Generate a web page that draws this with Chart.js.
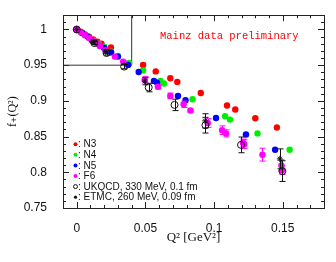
<!DOCTYPE html>
<html>
<head>
<meta charset="utf-8">
<script src="https://cdn.jsdelivr.net/npm/chart.js@4.4.1/dist/chart.umd.min.js"></script>
<style>
  html, body { margin: 0; padding: 0; background: #fff; }
  #wrap { width: 336px; height: 262px; }
</style>
</head>
<body>
<div id="wrap"><canvas id="ffChart" width="336" height="262"></canvas></div>
<script>
// f+(Q^2) vs Q^2

// N3 (red)
const n3Q2 = [0, 0.003, 0.006, 0.009, 0.012, 0.015, 0.018, 0.0249, 0.0483, 0.0575, 0.0681, 0.0732, 0.0903, 0.1094, 0.1154, 0.130, 0.1457];
const n3F  = [1, 0.997, 0.993, 0.990, 0.986, 0.983, 0.980, 0.975, 0.9504, 0.9413, 0.9317, 0.9266, 0.911, 0.8935, 0.888, 0.8756, 0.8628];

// N4 (green)
const n4Q2 = [0, 0.004, 0.008, 0.012, 0.016, 0.020, 0.025, 0.030, 0.0381, 0.0483, 0.0609, 0.0635, 0.0843, 0.108, 0.1116, 0.1316, 0.155];
const n4F  = [1, 0.995, 0.990, 0.985, 0.980, 0.976, 0.969, 0.963, 0.953, 0.9427, 0.928, 0.9243, 0.9022, 0.8784, 0.8738, 0.8545, 0.8316];

// N5 (blue)
const n5Q2 = [0, 0.004, 0.008, 0.011, 0.013, 0.017, 0.020, 0.025, 0.030, 0.0374, 0.0451, 0.0562, 0.0584, 0.0737, 0.0792, 0.1014, 0.1232, 0.1444];
const n5F  = [1, 0.995, 0.990, 0.985, 0.982, 0.977, 0.974, 0.968, 0.962, 0.9504, 0.9404, 0.928, 0.9256, 0.907, 0.9008, 0.876, 0.853, 0.8315];

// F6 (magenta), with errors
const f6Q2  = [0, 0.003, 0.006, 0.009, 0.012, 0.015, 0.017, 0.021, 0.0278, 0.0338, 0.0495, 0.0591, 0.0681, 0.0778, 0.0828, 0.0954, 0.1058, 0.1087, 0.121, 0.122, 0.1352, 0.149, 0.1495];
const f6F   = [1, 0.996, 0.992, 0.988, 0.984, 0.980, 0.977, 0.971, 0.962, 0.955, 0.9298, 0.9197, 0.907, 0.8953, 0.8866, 0.869, 0.859, 0.8545, 0.8415, 0.8394, 0.8247, 0.8095, 0.803];
const f6Err = [0, 0, 0, 0, 0, 0, 0, 0, 0.001, 0.001, 0.0045, 0.003, 0.004, 0.0045, 0.002, 0.006, 0.006, 0.005, 0.005, 0.006, 0.009, 0.008, 0.006];

// UKQCD, 330 MeV, 0.1 fm (open circles)
const ukQ2  = [0, 0.0128, 0.0217, 0.0345, 0.0524, 0.0712, 0.0937, 0.1196, 0.1497];
const ukF   = [1, 0.981, 0.967, 0.948, 0.9187, 0.8944, 0.866, 0.8384, 0.8017];
const ukErr = [0, 0.002, 0.003, 0.003, 0.006, 0.008, 0.011, 0.011, 0.0145];

// ETMC, 260 MeV, 0.09 fm (stars)
const etQ2  = [0, 0.012, 0.021, 0.0495, 0.0935, 0.1478];
const etF   = [1, 0.983, 0.969, 0.9276, 0.872, 0.8188];
const etErr = [0, 0.002, 0.003, 0.005, 0.010, 0.014];

// zoom box drawn in the top-left corner
const boxQ2 = [-0.01, 0.04, 0.04];
const boxF  = [0.95, 0.95, 1.02];

const xTicks = [0, 0.05, 0.1, 0.15];
const yTicks = [0.75, 0.8, 0.85, 0.9, 0.95, 1];

const legendLabels = ['N3', 'N4', 'N5', 'F6', 'UKQCD, 330 MeV, 0.1 fm', 'ETMC, 260 MeV, 0.09 fm'];

const RED = '#ff0000', GREEN = '#00ee00', BLUE = '#0000ff', MAGENTA = '#ff00ff', BLACK = '#111';

function pts(xs, ys, errs) {
  return xs.map((x, i) => ({ x: x, y: ys[i], err: errs ? errs[i] : 0 }));
}

// error bars, drawn right after their own dataset
const errorBars = {
  id: 'errorBars',
  afterDatasetDraw(chart, args) {
    const ds = chart.data.datasets[args.index];
    if (!ds.errColor) return;
    const ctx = chart.ctx;
    const xs = chart.scales.x, ys = chart.scales.y;
    ctx.save();
    ctx.strokeStyle = ds.errColor;
    ctx.lineWidth = 1;
    ds.data.forEach(p => {
      if (!p.err) return;
      const px = Math.round(xs.getPixelForValue(p.x)) + 0.5;
      const top = ys.getPixelForValue(p.y + p.err);
      const bot = ys.getPixelForValue(p.y - p.err);
      ctx.beginPath();
      ctx.moveTo(px, top); ctx.lineTo(px, bot);
      ctx.moveTo(px - 3, top); ctx.lineTo(px + 3, top);
      ctx.moveTo(px - 3, bot); ctx.lineTo(px + 3, bot);
      ctx.stroke();
    });
    ctx.restore();
  }
};

// frame with inward ticks on all four sides
const frameTicks = {
  id: 'frameTicks',
  beforeDatasetsDraw(chart) {
    const { ctx, chartArea: a } = chart;
    const xs = chart.scales.x, ys = chart.scales.y;
    ctx.save();
    ctx.strokeStyle = '#222';
    ctx.lineWidth = 1;
    ctx.strokeRect(Math.round(a.left) + 0.5, Math.round(a.top) + 0.5, Math.round(a.right - a.left), Math.round(a.bottom - a.top));
    ctx.beginPath();
    for (let k = 0; k <= 17; k++) {
      const v = k / 100;
      const len = (k % 5 === 0) ? 6 : 3;
      const px = Math.round(xs.getPixelForValue(v)) + 0.5;
      ctx.moveTo(px, a.bottom); ctx.lineTo(px, a.bottom - len);
      ctx.moveTo(px, a.top); ctx.lineTo(px, a.top + len);
    }
    for (let k = 76; k <= 101; k++) {
      const v = k / 100;
      const len = (k % 5 === 0) ? 6 : 3;
      const py = Math.round(ys.getPixelForValue(v)) + 0.5;
      ctx.moveTo(a.left, py); ctx.lineTo(a.left + len, py);
      ctx.moveTo(a.right, py); ctx.lineTo(a.right - len, py);
    }
    ctx.stroke();
    ctx.restore();
  }
};

// in-plot label and legend
const annotations = {
  id: 'annotations',
  afterDraw(chart) {
    const { ctx, chartArea: a } = chart;
    ctx.save();
    ctx.fillStyle = RED;
    ctx.font = '10.5px "Liberation Mono", monospace';
    ctx.textBaseline = 'alphabetic';
    ctx.textAlign = 'left';
    ctx.fillText('Mainz data preliminary', a.left + 97, a.top + 23.5);

    const colors = [RED, GREEN, BLUE, MAGENTA];
    const lx = a.left + 12.5;
    ctx.font = '10px "Liberation Sans", Arial, sans-serif';
    ctx.textBaseline = 'middle';
    legendLabels.forEach((lbl, i) => {
      const ly = a.top + 129 + i * 10.6;
      ctx.beginPath();
      if (i < 4) {
        ctx.fillStyle = colors[i];
        ctx.arc(lx, ly, 2, 0, Math.PI * 2);
        ctx.fill();
      } else if (i === 4) {
        ctx.strokeStyle = BLACK;
        ctx.lineWidth = 1;
        ctx.arc(lx, ly, 2, 0, Math.PI * 2);
        ctx.stroke();
      } else {
        ctx.fillStyle = BLACK;
        ctx.arc(lx, ly, 1.6, 0, Math.PI * 2);
        ctx.fill();
      }
      ctx.fillStyle = '#111';
      ctx.fillText(': ' + lbl, lx + 2.5, ly + 0.5);
    });
    ctx.restore();
  }
};

function dotSet(label, xs, ys, color, errs) {
  return {
    label: label,
    data: pts(xs, ys, errs),
    pointRadius: 3.2,
    pointBackgroundColor: color,
    pointBorderColor: color,
    pointBorderWidth: 0,
    errColor: errs ? color : null
  };
}

new Chart(document.getElementById('ffChart'), {
  type: 'scatter',
  data: {
    datasets: [
      {
        label: 'ETMC',
        data: pts(etQ2, etF, etErr),
        pointStyle: 'star',
        pointRadius: 3,
        pointBorderColor: BLACK,
        pointBorderWidth: 1,
        errColor: BLACK
      },
      {
        label: 'UKQCD',
        data: pts(ukQ2, ukF, ukErr),
        pointStyle: 'circle',
        pointRadius: 3.5,
        pointBackgroundColor: 'rgba(255,255,255,0)',
        pointBorderColor: BLACK,
        pointBorderWidth: 1,
        errColor: BLACK
      },
      dotSet('F6', f6Q2, f6F, MAGENTA, f6Err),
      dotSet('N5', n5Q2, n5F, BLUE),
      dotSet('N4', n4Q2, n4F, GREEN),
      dotSet('N3', n3Q2, n3F, RED),
      {
        label: 'box',
        data: pts(boxQ2, boxF),
        showLine: true,
        pointRadius: 0,
        borderColor: '#333',
        borderWidth: 1,
        fill: false
      }
    ]
  },
  options: {
    responsive: false,
    animation: false,
    events: [],
    layout: { padding: { left: 2, right: 12, top: 12, bottom: 10 } },
    plugins: {
      legend: { display: false },
      tooltip: { enabled: false }
    },
    scales: {
      x: {
        type: 'linear',
        min: -0.01,
        max: 0.18,
        grid: { display: false },
        border: { display: false },
        afterBuildTicks: s => { s.ticks = xTicks.map(v => ({ value: v })); },
        afterFit: s => { s.height = 44; },
        ticks: {
          padding: 5,
          color: '#111',
          maxRotation: 0,
          font: { family: '"Liberation Sans", Arial, sans-serif', size: 12 },
          callback: v => String(v)
        },
        title: {
          display: true,
          text: 'Q² [GeV²]',
          color: '#111',
          padding: { top: 0, bottom: 7 },
          font: { family: '"Liberation Serif", "DejaVu Serif", serif', size: 13 }
        }
      },
      y: {
        type: 'linear',
        min: 0.75,
        max: 1.02,
        grid: { display: false },
        border: { display: false },
        afterBuildTicks: s => { s.ticks = yTicks.map(v => ({ value: v })); },
        afterFit: s => { s.width = 61; },
        ticks: {
          padding: 8,
          color: '#111',
          font: { family: '"Liberation Sans", Arial, sans-serif', size: 12 },
          callback: v => String(v)
        },
        title: {
          display: true,
          text: 'f₊(Q²)',
          color: '#111',
          padding: { top: 4, bottom: 0 },
          font: { family: '"Liberation Serif", "DejaVu Serif", serif', size: 12 }
        }
      }
    }
  },
  plugins: [frameTicks, errorBars, annotations]
});
</script>
</body>
</html>
